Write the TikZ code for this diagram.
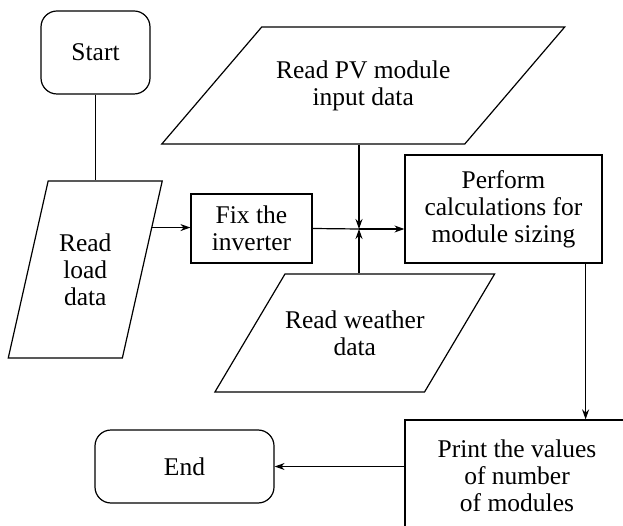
\documentclass[tikz,border=0pt]{standalone}
\usepackage{fontspec}
\setmainfont{Liberation Serif}
\usetikzlibrary{arrows.meta,positioning,shapes.geometric}

\tikzset{
  termbox/.style={draw, rounded corners=16pt, align=center, inner sep=0pt},
  procbox/.style={draw, align=center, inner sep=0pt},
  iobox/.style={draw, trapezium, trapezium stretches body=true, align=center, inner xsep=0pt},
  flow/.style={-{Stealth[length=10pt,width=7pt]}},
}

\begin{document}
\begin{tikzpicture}[x=1pt, y=-1pt, line width=1.2pt,
  font=\fontsize{25.5}{27}\selectfont]
\useasboundingbox (0,0) rectangle (623,526);
\clip (0,0) rectangle (623,526);
% left column
\node[termbox, minimum width=109pt, minimum height=83pt] (start) at (95.5,52.5) {Start};
\node[iobox, trapezium left angle=77.3, trapezium right angle=102.7,
      minimum width=154pt, inner ysep=52.6pt] (load) at (85.25,269.5) {Read\\load\\data};
\node[procbox, minimum width=121pt, minimum height=69pt] (fix) at (251.5,228.5) {Fix the\\inverter};
% inputs
\node[iobox, trapezium left angle=49.5, trapezium right angle=130.5,
      minimum width=403pt, inner ysep=33.5pt] (pv) at (363.25,85.5) {Read PV module\\input data};
\node[iobox, trapezium left angle=59.3, trapezium right angle=120.7,
      minimum width=277pt, inner ysep=36.6pt] (weather) at (354.75,333) {Read weather\\data};
\coordinate (junc) at (359,229);
% right column
\node[procbox, minimum width=197pt, minimum height=108pt] (perform) at (503.5,209) {Perform\\calculations for\\module sizing};
\node[procbox, minimum width=224pt, minimum height=112pt] (print) at (517,476) {Print the values\\of number\\of modules};
\node[termbox, minimum width=179pt, minimum height=73pt] (end) at (184.5,466.5) {End};
% connectors
\draw (start.south) -- (start.south |- load.north);
\draw[flow] (load.32) -- (load.32 -| fix.west);
\draw (fix.east) -- (junc);
\draw[flow] (pv.south -| junc) -- (junc);
\draw[flow] (weather.north -| junc) -- (junc);
\draw[flow] (junc) -- (perform.west |- junc);
\draw[flow] ([xshift=-17pt]perform.south east) -- ([xshift=-17pt]perform.south east |- print.north);
\draw[flow] (print.west |- end.east) -- (end.east);
\end{tikzpicture}
\end{document}
